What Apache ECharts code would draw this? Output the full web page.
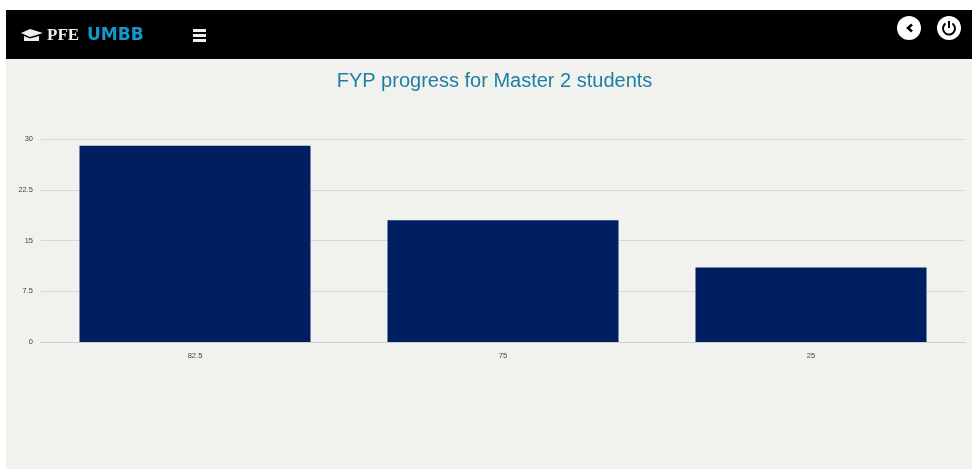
<!DOCTYPE html>
<html>
<head>
<meta charset="utf-8">
<title>FYP progress</title>
<script src="https://cdn.jsdelivr.net/npm/echarts@6/dist/echarts.min.js"></script>
<style>
html, body { margin: 0; padding: 0; background: #fff; }
#chart { width: 972px; height: 469px; }
</style>
</head>
<body>
<div id="chart"></div>
<script>
var categories = ['82.5', '75', '25'];
var students = [29, 18, 11];
var yTicks = [0, 7.5, 15, 22.5, 30];

var option = {
    animation: false,
    title: {
        text: 'FYP progress for Master 2 students',
        left: 489.5,
        top: 66,
        textAlign: 'center',
        textStyle: {
            color: '#1c7fa6',
            fontSize: 20,
            fontWeight: 'normal',
            fontFamily: 'Liberation Sans'
        }
    },
    grid: { left: 41, right: 7, top: 139, bottom: 127 },
    xAxis: {
        type: 'category',
        data: categories,
        axisTick: { show: false },
        axisLine: { lineStyle: { color: '#c9d0d6' } },
        axisLabel: { color: '#444', fontSize: 7.5, margin: 10 }
    },
    yAxis: {
        type: 'value',
        min: 0,
        max: yTicks[yTicks.length - 1],
        interval: 7.5,
        axisLine: { show: false },
        axisTick: { show: false },
        axisLabel: { color: '#444', fontSize: 7.5, margin: 8 },
        splitLine: { lineStyle: { color: '#d5d8d6' } }
    },
    series: [{
        type: 'bar',
        data: students,
        barCategoryGap: '25%',
        itemStyle: { color: '#001f60' }
    }],
    graphic: [
        // page background and header bar
        { type: 'rect', z: -10, silent: true, shape: { x: 6, y: 59, width: 966, height: 410 }, style: { fill: '#f1f2ee' } },
        { type: 'rect', z: -9, silent: true, shape: { x: 6, y: 10, width: 966, height: 49 }, style: { fill: '#000' } },
        // graduation cap
        { type: 'polygon', shape: { points: [[21, 33], [30, 29], [43, 33], [30, 37]] }, style: { fill: '#eee' } },
        { type: 'polygon', shape: { points: [[24, 36], [30, 38.5], [39, 36], [39, 41], [24, 41]] }, style: { fill: '#eee' } },
        { type: 'text', x: 47, y: 27, style: { text: 'PFE', fill: '#eee', font: 'bold 17px "Liberation Serif"' } },
        { type: 'text', x: 87, y: 27, style: { text: 'UMBB', fill: '#1497cf', font: 'bold 17px "DejaVu Sans"' } },
        // menu icon
        { type: 'rect', shape: { x: 193, y: 29, width: 13, height: 3 }, style: { fill: '#eee' } },
        { type: 'rect', shape: { x: 193, y: 34, width: 13, height: 3 }, style: { fill: '#eee' } },
        { type: 'rect', shape: { x: 193, y: 39, width: 13, height: 3 }, style: { fill: '#eee' } },
        // back button
        { type: 'circle', shape: { cx: 909, cy: 28, r: 12 }, style: { fill: '#fff' } },
        { type: 'polyline', shape: { points: [[912, 24.5], [908, 28], [912, 31.5]] }, style: { stroke: '#000', fill: null, lineWidth: 2.5 } },
        // power button
        { type: 'circle', shape: { cx: 949, cy: 28, r: 12 }, style: { fill: '#fff' } },
        { type: 'arc', shape: { cx: 949, cy: 28.5, r: 6, startAngle: -Math.PI / 2 + 0.6, endAngle: -Math.PI / 2 - 0.6 }, style: { stroke: '#000', fill: null, lineWidth: 2 } },
        { type: 'line', shape: { x1: 949, y1: 21, x2: 949, y2: 28 }, style: { stroke: '#000', lineWidth: 2 } }
    ]
};

var myChart = echarts.init(document.getElementById('chart'));
myChart.setOption(option);
</script>
</body>
</html>
